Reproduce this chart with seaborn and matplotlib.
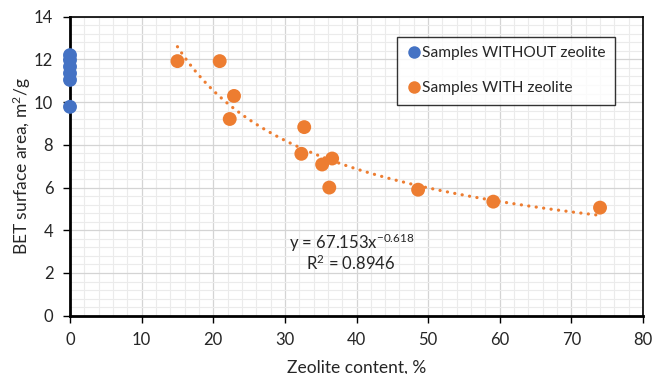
import numpy as np
import pandas as pd
import matplotlib
matplotlib.use("Agg")
import matplotlib.pyplot as plt
import seaborn as sns
from matplotlib.lines import Line2D
from matplotlib.ticker import MultipleLocator

# Data
without_x = [0, 0, 0, 0, 0, 0]
without_y = [12.2, 11.97, 11.66, 11.35, 11.04, 9.78]
with_x = [15.0, 20.9, 22.9, 22.3, 32.7, 32.3, 35.2, 36.6, 36.2, 48.6, 59.1, 74.0]
with_y = [11.92, 11.92, 10.29, 9.21, 8.83, 7.58, 7.08, 7.36, 6.0, 5.9, 5.34, 5.06]
groups = ["Samples WITHOUT zeolite", "Samples WITH zeolite"]
fit_a, fit_b = 67.153, -0.618
eq_text = "y = 67.153x$^{-0.618}$"
r2_text = "R$^2$ = 0.8946"

df = pd.DataFrame({
    "x": without_x + with_x,
    "y": without_y + with_y,
    "group": [groups[0]] * len(without_x) + [groups[1]] * len(with_x),
})

sns.set_theme(style="white")
plt.rcParams["font.family"] = ["Lato", "DejaVu Sans"]
plt.rcParams["mathtext.fontset"] = "custom"
plt.rcParams["mathtext.rm"] = "Lato"
plt.rcParams["mathtext.it"] = "Lato"
plt.rcParams["mathtext.default"] = "regular"

blue, orange = "#4472C4", "#ED7D31"
W, H = 654, 374
fig = plt.figure(figsize=(W / 100, H / 100), dpi=100)
ax = fig.add_axes([70 / W, 1 - 315.7 / H, (643 - 70) / W, (315.7 - 16.7) / H])

ax.set_xlim(0, 80)
ax.set_ylim(0, 14)
ax.xaxis.set_major_locator(MultipleLocator(10))
ax.xaxis.set_minor_locator(MultipleLocator(2))
ax.yaxis.set_major_locator(MultipleLocator(2))
ax.yaxis.set_minor_locator(MultipleLocator(0.4))
ax.grid(which="minor", color="#ebebeb", linewidth=0.8)
ax.grid(which="major", color="#d4d4d4", linewidth=0.9)
ax.set_axisbelow(True)

# power trendline from the displayed fit coefficients
xs = np.linspace(min(with_x), max(with_x), 300)
ax.plot(xs, fit_a * xs ** fit_b, color=orange, linewidth=2.3,
        linestyle=(0, (0.05, 2.3)), dash_capstyle="round", zorder=2)

sns.scatterplot(data=df, x="x", y="y", hue="group", palette=[blue, orange],
                s=100, edgecolor="none", ax=ax, legend=False, zorder=3, clip_on=False)

for sp in ax.spines.values():
    sp.set_color("black")
    sp.set_linewidth(1.2)
ax.spines["left"].set_linewidth(2)
ax.spines["bottom"].set_linewidth(2)

ax.tick_params(axis="both", which="major", direction="out", length=5, width=1,
               color="black", labelsize=12, pad=7, left=True, bottom=True)
ax.tick_params(which="minor", length=0)
ax.set_xlabel("Zeolite content, %", fontsize=12.5, labelpad=8)
ax.set_ylabel("BET surface area, m$^2$/g", fontsize=12.5, labelpad=1)

fig.text(352 / W, 1 - 243 / H, eq_text, fontsize=12, ha="center", va="center")
fig.text(351 / W, 1 - 263 / H, r2_text, fontsize=12, ha="center", va="center")

handles = [Line2D([], [], marker="o", linestyle="", markersize=9,
                  markerfacecolor=c, markeredgecolor="none") for c in (blue, orange)]
leg = ax.legend(handles, groups, loc="upper left",
                bbox_to_anchor=((397 - 70) / 573, 1 - (37 - 16.7) / 299),
                frameon=True, fontsize=11.2, handletextpad=0.0, borderpad=0.6,
                labelspacing=1.35, fancybox=False, borderaxespad=0, handlelength=1.0)
leg.get_frame().set_edgecolor("black")
leg.get_frame().set_linewidth(1.0)

fig.savefig("out.png", dpi=100)
